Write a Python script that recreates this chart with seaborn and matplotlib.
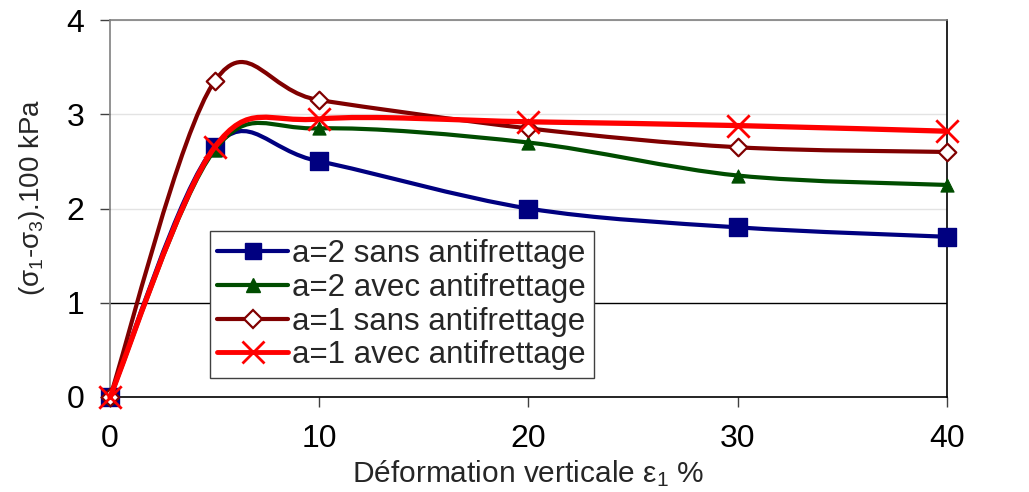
import numpy as np
import pandas as pd
import matplotlib
matplotlib.use("Agg")
import matplotlib.pyplot as plt
from matplotlib.path import Path
from matplotlib.patches import PathPatch
from matplotlib.lines import Line2D
import seaborn as sns

# deformation (%) and deviatoric stress (x100 kPa)
deformation = [0, 5, 10, 20, 30, 40]
a2_sans = [0, 2.65, 2.50, 2.00, 1.80, 1.70]
a2_avec = [0, 2.62, 2.85, 2.70, 2.35, 2.25]
a1_sans = [0, 3.35, 3.15, 2.85, 2.65, 2.60]
a1_avec = [0, 2.65, 2.95, 2.92, 2.88, 2.82]

labels = ["a=2 sans antifrettage", "a=2 avec antifrettage",
          "a=1 sans antifrettage", "a=1 avec antifrettage"]
colors = ["#000080", "#004d00", "#800000", "#ff0000"]

sns.set_style("ticks")
plt.rcParams["font.family"] = ["Liberation Sans", "DejaVu Sans"]
plt.rcParams["mathtext.default"] = "regular"


def smooth_path(x, y):
    # Excel-like smoothed line (Catmull-Rom as cubic Bezier)
    pts = np.column_stack([x, y]).astype(float)
    n = len(pts)
    verts = [pts[0]]
    codes = [Path.MOVETO]
    for i in range(n - 1):
        p0 = pts[i - 1] if i > 0 else pts[i]
        p1 = pts[i]
        p2 = pts[i + 1]
        p3 = pts[i + 2] if i + 2 < n else pts[i + 1]
        verts += [p1 + (p2 - p0) / 6, p2 - (p3 - p1) / 6, p2]
        codes += [Path.CURVE4] * 3
    return Path(verts, codes)


fig = plt.figure(figsize=(10.29, 4.92), dpi=100)
ax = fig.add_axes([0.1069, 0.1931, 0.8134, 0.7662])

series = [a2_sans, a2_avec, a1_sans, a1_avec]
lws = [3.0, 3.0, 3.0, 3.8]
mk = [dict(marker="s", s=150, color=colors[0], edgecolor=colors[0]),
      dict(marker="^", s=90, color=colors[1], edgecolor=colors[1]),
      dict(marker="D", s=80, facecolor="white", edgecolor=colors[2], linewidth=1.6),
      dict(marker="x", s=260, color=colors[3], linewidth=2.0)]

for i, (vals, lab) in enumerate(zip(series, labels)):
    ax.add_patch(PathPatch(smooth_path(deformation, vals), fill=False,
                           edgecolor=colors[i], lw=lws[i], zorder=3 + 2 * i,
                           capstyle="round", joinstyle="round", clip_on=False))
    df = pd.DataFrame({"x": deformation, "y": vals})
    sns.scatterplot(data=df, x="x", y="y", ax=ax, zorder=4 + 2 * i,
                    legend=False, clip_on=False, **mk[i])

ax.set_xlim(0, 40)
ax.set_ylim(0, 4)
ax.set_xticks([0, 10, 20, 30, 40])
ax.set_yticks([0, 1, 2, 3, 4])
ax.tick_params(axis="both", labelsize=23, direction="out", length=7.5,
               width=1, colors="#404040", labelcolor="black")
ax.tick_params(axis="x", pad=12)
ax.tick_params(axis="y", pad=11)

ax.grid(axis="y", color="#e3e3e3", lw=1)
ax.get_ygridlines()[1].set_color("black")
ax.set_axisbelow(True)

for side in ["top", "left"]:
    ax.spines[side].set_color("#808080")
for side in ["bottom", "right"]:
    ax.spines[side].set_color("black")
for sp in ax.spines.values():
    sp.set_linewidth(1.2)

ax.set_xlabel(r"Déformation verticale $\varepsilon_1$ %", fontsize=21.5)
ax.xaxis.set_label_coords(0.5, -0.163)
ax.set_ylabel(r"($\sigma_1$-$\sigma_3$).100 kPa", fontsize=20)
ax.yaxis.set_label_coords(-0.075, 0.53)

handles = [
    Line2D([], [], color=colors[0], lw=3, marker="s", markersize=12),
    Line2D([], [], color=colors[1], lw=3, marker="^", markersize=10),
    Line2D([], [], color=colors[2], lw=3, marker="D", markersize=9,
           markerfacecolor="white", markeredgewidth=1.6),
    Line2D([], [], color=colors[3], lw=3.5, marker="x", markersize=16,
           markeredgewidth=2),
]
leg = ax.legend(handles, labels, loc="lower left",
                bbox_to_anchor=(0.119, 0.05), fontsize=22.5, frameon=True,
                fancybox=False, edgecolor="#404040", framealpha=1,
                handlelength=2.25, handletextpad=0.15, labelspacing=0.12,
                borderpad=0.25, borderaxespad=0)
leg.get_frame().set_linewidth(1.0)
leg.set_zorder(20)

fig.savefig("out.png", dpi=100)
